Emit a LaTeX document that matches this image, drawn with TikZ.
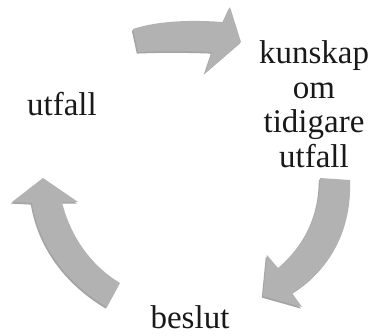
\documentclass[tikz,border=0pt]{standalone}
\usepackage{fontspec}
\setmainfont{Liberation Serif}
\definecolor{arrowgray}{RGB}{178,178,178}
\definecolor{shadowgray}{RGB}{90,90,90}
\definecolor{textcol}{RGB}{25,25,25}
\tikzset{
  arrowshape/.style={fill=arrowgray, draw=none},
  arrowshadow/.style={fill=shadowgray, opacity=0.55, draw=none, shift={(-1.2,1.6)}},
  lbl/.style={inner sep=0pt, text=textcol, font=\fontsize{33}{34.5}\selectfont, align=center}
}
\begin{document}
\begin{tikzpicture}[x=1pt,y=-1pt]
\useasboundingbox (0,0) rectangle (382,335);
\def\toparrow{(133,29) .. controls (160,20) and (195,20) .. (223,22) -- (230,7) -- (241,42) -- (205,73) -- (212,52) .. controls (185,51) and (160,51) .. (138,52) -- cycle}
\def\rightarrow{(320,178) -- (350,180) .. controls (352,230) and (330,270) .. (292,293) -- (302,307) -- (263,296) -- (267,255) -- (278,268) .. controls (305,245) and (320,215) .. (320,178) -- cycle}
\def\leftarrow{(43,178) -- (78,202) -- (62,202) .. controls (70,235) and (90,265) .. (120,283) -- (107,307) .. controls (70,285) and (40,250) .. (32,203) -- (12,202) -- cycle}
\fill[arrowshadow] \toparrow;
\fill[arrowshadow] \rightarrow;
\fill[arrowshadow] \leftarrow;
\fill[arrowshape] \toparrow;
\fill[arrowshape] \rightarrow;
\fill[arrowshape] \leftarrow;
\node[lbl, anchor=north] (know) at (314,40.5) {kunskap\\om\\tidigare\\utfall};
\node[lbl, anchor=base] (outcome) at (62,115) {utfall};
\node[lbl, anchor=base] (decision) at (190,328) {beslut};
\end{tikzpicture}
\end{document}
